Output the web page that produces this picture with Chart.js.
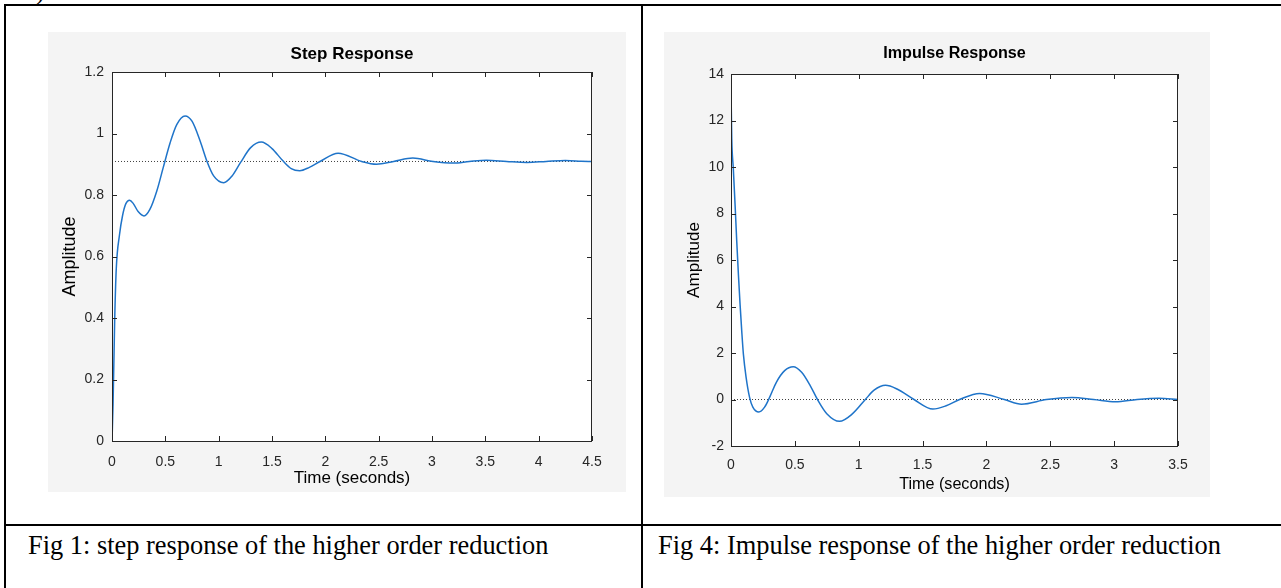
<!DOCTYPE html>
<html>
<head>
<meta charset="utf-8">
<title>Step and impulse response</title>
<script src="https://cdn.jsdelivr.net/npm/chart.js@4.4.1/dist/chart.umd.min.js"></script>
<style>
  html, body { margin: 0; padding: 0; background: #fff; }
  body { width: 1281px; height: 588px; position: relative; overflow: hidden; }
  .rule { position: absolute; background: #000; }
  .panel { position: absolute; background: #f4f4f4; }
  .caption {
    position: absolute; font-family: "Liberation Serif", "Times New Roman", serif;
    font-size: 26.4px; line-height: 30px; color: #000; white-space: nowrap;
  }
</style>
</head>
<body>
<div class="caption" style="left:36px; top:-25px;">)</div>

<!-- table rules -->
<div class="rule" style="left:4px; top:4px; width:1277px; height:2px;"></div>
<div class="rule" style="left:4px; top:4px; width:2px; height:584px;"></div>
<div class="rule" style="left:641px; top:4px; width:2px; height:584px;"></div>
<div class="rule" style="left:4px; top:524px; width:1277px; height:2px;"></div>

<div class="panel" style="left:48px; top:32px; width:578px; height:460px;">
  <canvas id="stepChart"></canvas>
</div>
<div class="panel" style="left:664px; top:32px; width:546px; height:465px;">
  <canvas id="impulseChart"></canvas>
</div>

<div class="caption" style="left:28px; top:530px;">Fig 1: step response of the higher order reduction</div>
<div class="caption" style="left:658px; top:530px;">Fig 4: Impulse response of the higher order reduction</div>

<script>
// step response
let stepTime = [0, 0.01, 0.025, 0.04, 0.07, 0.1, 0.13, 0.165, 0.2, 0.245, 0.3, 0.355, 0.42, 0.48, 0.545, 0.607, 0.685, 0.75, 0.827, 0.89, 0.953, 1.047, 1.126, 1.204, 1.3, 1.4, 1.5, 1.6, 1.68, 1.76, 1.85, 1.95, 2.12, 2.34, 2.48, 2.64, 2.82, 3.01, 3.2, 3.35, 3.51, 3.7, 3.89, 4.07, 4.25, 4.4, 4.5];
let stepAmp = [0, 0.12, 0.39, 0.56, 0.67, 0.735, 0.772, 0.783, 0.772, 0.746, 0.732, 0.753, 0.813, 0.889, 0.97, 1.029, 1.057, 1.04, 0.975, 0.91, 0.862, 0.84, 0.862, 0.905, 0.954, 0.972, 0.951, 0.912, 0.886, 0.879, 0.89, 0.909, 0.936, 0.909, 0.9, 0.909, 0.92, 0.909, 0.904, 0.909, 0.913, 0.909, 0.906, 0.909, 0.912, 0.91, 0.909];
let stepFinal = 0.909;
let stepXTicks = [0, 4.5, 0.5];
let stepYTicks = [0, 1.2, 0.2];

// impulse response
let impulseTime = [0, 0.002, 0.006, 0.018, 0.032, 0.045, 0.058, 0.071, 0.084, 0.097, 0.118, 0.145, 0.171, 0.218, 0.263, 0.303, 0.355, 0.42, 0.487, 0.553, 0.62, 0.677, 0.75, 0.85, 0.95, 1.052, 1.12, 1.21, 1.3, 1.433, 1.58, 1.68, 1.79, 1.947, 2.14, 2.275, 2.47, 2.67, 2.84, 3.01, 3.18, 3.35, 3.5];
let impulseAmp = [13.9, 12.6, 11.2, 9.94, 8.37, 6.8, 5.38, 4.09, 2.95, 1.95, 0.96, 0.1, -0.33, -0.54, -0.33, 0.1, 0.74, 1.24, 1.41, 1.17, 0.6, 0, -0.61, -0.94, -0.62, 0, 0.4, 0.61, 0.45, 0, -0.41, -0.28, 0, 0.26, 0, -0.2, 0, 0.09, 0, -0.1, 0, 0.05, 0];
let impulseFinal = 0;
let impulseXTicks = [0, 3.5, 0.5];
let impulseYTicks = [-2, 14, 2];

let lineBlue = '#1f74c9';
let axisGrey = '#262626';
let textGrey = '#262626';
let fontFamily = '"Liberation Sans", Arial, Helvetica, sans-serif';

// white plot area on the grey figure
const whiteArea = {
    id: 'whiteArea',
    beforeDraw(chart) {
        const { ctx, chartArea: a } = chart;
        ctx.save();
        ctx.fillStyle = '#ffffff';
        ctx.fillRect(a.left, a.top, a.width, a.height);
        ctx.restore();
    }
};

// MATLAB style box with ticks pointing inwards on all four sides
const matlabBox = {
    id: 'matlabBox',
    afterDatasetsDraw(chart) {
        const { ctx, chartArea: a, scales: { x, y } } = chart;
        ctx.save();
        ctx.strokeStyle = axisGrey;
        ctx.lineWidth = 1;
        ctx.beginPath();
        x.ticks.forEach(function (t) {
            let px = Math.round(x.getPixelForValue(t.value)) + 0.5;
            ctx.moveTo(px, a.bottom); ctx.lineTo(px, a.bottom - 5);
            ctx.moveTo(px, a.top); ctx.lineTo(px, a.top + 5);
        });
        y.ticks.forEach(function (t) {
            let py = Math.round(y.getPixelForValue(t.value)) + 0.5;
            ctx.moveTo(a.left, py); ctx.lineTo(a.left + 5, py);
            ctx.moveTo(a.right, py); ctx.lineTo(a.right - 5, py);
        });
        ctx.stroke();
        ctx.strokeRect(Math.round(a.left) + 0.5, Math.round(a.top) + 0.5, Math.round(a.width) - 1, Math.round(a.height));
        ctx.restore();
    }
};

function toPoints(xs, ys) {
    return xs.map(function (v, i) { return { x: v, y: ys[i] }; });
}

// 1 instead of 1.0, like MATLAB
function tickText(value) {
    return String(Number(value.toFixed(2)));
}

function makeChart(id, cfg) {
    let ctx = document.getElementById(id).getContext('2d');
    let s = cfg.titleScale;
    return new Chart(ctx, {
        type: 'line',
        data: {
            datasets: [{
                data: toPoints(cfg.time, cfg.amp),
                borderColor: lineBlue,
                borderWidth: 1.5,
                pointRadius: 0,
                cubicInterpolationMode: 'monotone',
                order: 1
            }, {
                data: toPoints([cfg.xTicks[0], cfg.xTicks[1]], [cfg.final, cfg.final]),
                borderColor: '#404040',
                borderWidth: 1,
                borderDash: [1, 2],
                pointRadius: 0,
                order: 2
            }]
        },
        options: {
            responsive: true,
            maintainAspectRatio: false,
            animation: false,
            layout: { padding: { top: 0, right: cfg.rightPad, bottom: 0, left: 0 } },
            plugins: {
                legend: { display: false },
                tooltip: { enabled: false },
                title: {
                    display: true,
                    fullSize: false,
                    text: cfg.title,
                    color: '#000',
                    font: { family: fontFamily, size: 17 * s, weight: 'bold', lineHeight: 1.2 },
                    padding: { top: cfg.titleTop, bottom: cfg.chartTop - cfg.titleTop - 20.4 * s }
                }
            },
            scales: {
                x: {
                    type: 'linear',
                    min: cfg.xTicks[0], max: cfg.xTicks[1],
                    grid: { display: false, drawTicks: false },
                    border: { display: false },
                    ticks: {
                        stepSize: cfg.xTicks[2], color: textGrey, padding: cfg.xTickPad,
                        font: { family: fontFamily, size: 14 }, maxRotation: 0,
                        callback: tickText
                    },
                    title: {
                        display: true, text: 'Time (seconds)', color: '#000',
                        font: { family: fontFamily, size: 17 * s, lineHeight: 1.2 },
                        padding: { top: 0, bottom: cfg.xTitlePad }
                    },
                    afterFit: function (scale) { scale.height = cfg.xAxisHeight; }
                },
                y: {
                    min: cfg.yTicks[0], max: cfg.yTicks[1],
                    grid: { display: false, drawTicks: false },
                    border: { display: false },
                    ticks: {
                        stepSize: cfg.yTicks[2], color: textGrey, padding: cfg.yTickPad,
                        font: { family: fontFamily, size: 14 },
                        callback: tickText
                    },
                    title: {
                        display: true, text: 'Amplitude', color: '#000',
                        font: { family: fontFamily, size: 18 * s, lineHeight: 1.2 },
                        padding: { top: cfg.yTitlePad, bottom: 0 }
                    },
                    afterFit: function (scale) { scale.width = cfg.yAxisWidth; }
                }
            }
        },
        plugins: [whiteArea, matlabBox]
    });
}

makeChart('stepChart', {
    title: 'Step Response',
    time: stepTime, amp: stepAmp, final: stepFinal,
    xTicks: stepXTicks, yTicks: stepYTicks,
    titleScale: 1,
    rightPad: 34, chartTop: 40, titleTop: 12,
    xAxisHeight: 51, yAxisWidth: 64,
    xTickPad: 13, yTickPad: 8, yTitlePad: 11, xTitlePad: 3
});

makeChart('impulseChart', {
    title: 'Impulse Response',
    time: impulseTime, amp: impulseAmp, final: impulseFinal,
    xTicks: impulseXTicks, yTicks: impulseYTicks,
    titleScale: 0.95,
    rightPad: 32, chartTop: 42, titleTop: 12,
    xAxisHeight: 51, yAxisWidth: 67,
    xTickPad: 11, yTickPad: 7, yTitlePad: 20, xTitlePad: 3
});
</script>
</body>
</html>
